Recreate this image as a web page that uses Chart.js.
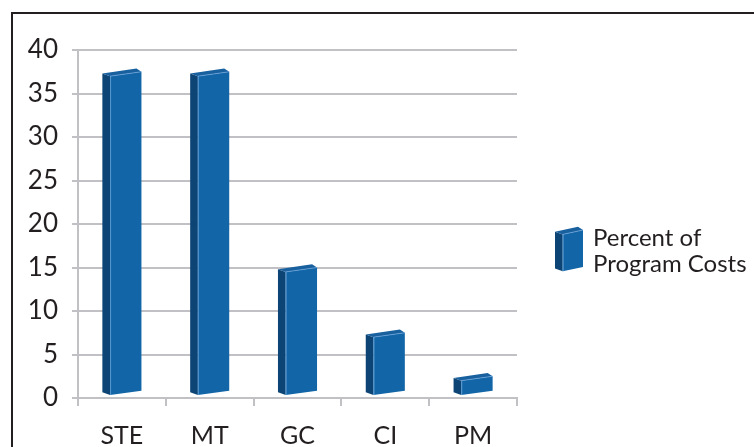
<!DOCTYPE html>
<html>
<head>
<meta charset="utf-8">
<script src="https://cdn.jsdelivr.net/npm/chart.js@4/dist/chart.umd.min.js"></script>
<style>
  html, body { margin: 0; padding: 0; background: #ffffff; overflow: hidden; }
  #wrap { position: relative; width: 754px; height: 447px; overflow: hidden; }
  #frame { position: absolute; left: 11px; top: 12px; width: 900px; height: 600px;
           border: 2px solid #231f20; box-sizing: border-box; }
  #chart { position: absolute; left: 0; top: 0; }
  #legend { position: absolute; left: 593px; top: 224px; font-family: Lato, "Open Sans", sans-serif;
            font-size: 24px; line-height: 26px; color: #231f20; white-space: nowrap; }
</style>
</head>
<body>
<div id="wrap">
  <div id="frame"></div>
  <canvas id="chart" width="754" height="447"></canvas>
  <div id="legend">Percent of<br>Program Costs</div>
</div>
<script>
// Share of program costs by category
const categories = ['STE', 'MT', 'GC', 'CI', 'PM'];
const percentOfProgramCosts = [37.5, 37.5, 15, 7.5, 2.5];
const seriesName = 'Percent of Program Costs';

const FRONT = '#1266a7';
const SIDE = '#0c4575';
const TOP = '#19609f';
const EDGE = 'rgba(110,165,220,0.75)';
const GRID = '#c1c1c5';
const INK = '#231f20';

function poly(ctx, pts, fill) {
  ctx.beginPath();
  ctx.moveTo(pts[0][0], pts[0][1]);
  for (let i = 1; i < pts.length; i++) ctx.lineTo(pts[i][0], pts[i][1]);
  ctx.closePath();
  ctx.fillStyle = fill;
  ctx.fill();
}

// Draws a box with a dark left side and a slanted top face
function drawBox(ctx, L, R, top, bottom) {
  const D = 7.7;
  const fl = L + D;
  // left side
  poly(ctx, [[L, top + 1.7], [fl, top + 4.4], [fl, bottom + 4.3], [L, bottom + 1.6]], SIDE);
  // front face
  poly(ctx, [[fl, top + 4.4], [R, top], [R, bottom], [fl, bottom + 4.3]], FRONT);
  // top face
  poly(ctx, [[L, top + 1.7], [R - 5, top - 3.3], [R, top], [fl, top + 4.4]], TOP);
  ctx.save();
  ctx.strokeStyle = EDGE;
  ctx.lineWidth = 1;
  ctx.beginPath();
  ctx.moveTo(fl + 0.5, top + 4.4);
  ctx.lineTo(fl + 0.5, bottom + 4.3);
  ctx.moveTo(fl, top + 4.4);
  ctx.lineTo(R, top);
  ctx.stroke();
  ctx.restore();
}

const bar3d = {
  id: 'bar3d',
  afterDatasetsDraw(chart) {
    const ctx = chart.ctx;
    chart.getDatasetMeta(0).data.forEach(bar => {
      const p = bar.getProps(['x', 'y', 'base', 'width'], true);
      drawBox(ctx, p.x - p.width / 2, p.x + p.width / 2, p.y, p.base - 6.3);
    });
    // legend swatch
    drawBox(ctx, 555, 583, 230, 267);
  }
};

new Chart(document.getElementById('chart'), {
  type: 'bar',
  data: {
    labels: categories,
    datasets: [{
      label: seriesName,
      data: percentOfProgramCosts,
      backgroundColor: 'rgba(0,0,0,0)',
      borderWidth: 0,
      categoryPercentage: 1,
      barPercentage: 0.445
    }]
  },
  options: {
    responsive: false,
    animation: false,
    layout: { padding: { top: 50, right: 237, left: 0, bottom: 0 } },
    plugins: { legend: { display: false }, tooltip: { enabled: false } },
    scales: {
      x: {
        grid: { drawOnChartArea: false, color: GRID, lineWidth: 2, tickLength: 8, offset: true },
        border: { display: true, color: GRID, width: 2 },
        ticks: { font: { family: 'Lato', size: 25 }, color: INK, padding: 15 },
        afterFit: s => { s.height = 49; }
      },
      y: {
        min: 0, max: 40,
        ticks: { stepSize: 5, font: { family: 'Lato', size: 26 }, color: INK, padding: 14 },
        grid: { color: GRID, lineWidth: 2, tickLength: 6 },
        border: { display: true, color: GRID, width: 2 },
        afterFit: s => { s.width = 78; }
      }
    }
  },
  plugins: [bar3d]
});
</script>
</body>
</html>
